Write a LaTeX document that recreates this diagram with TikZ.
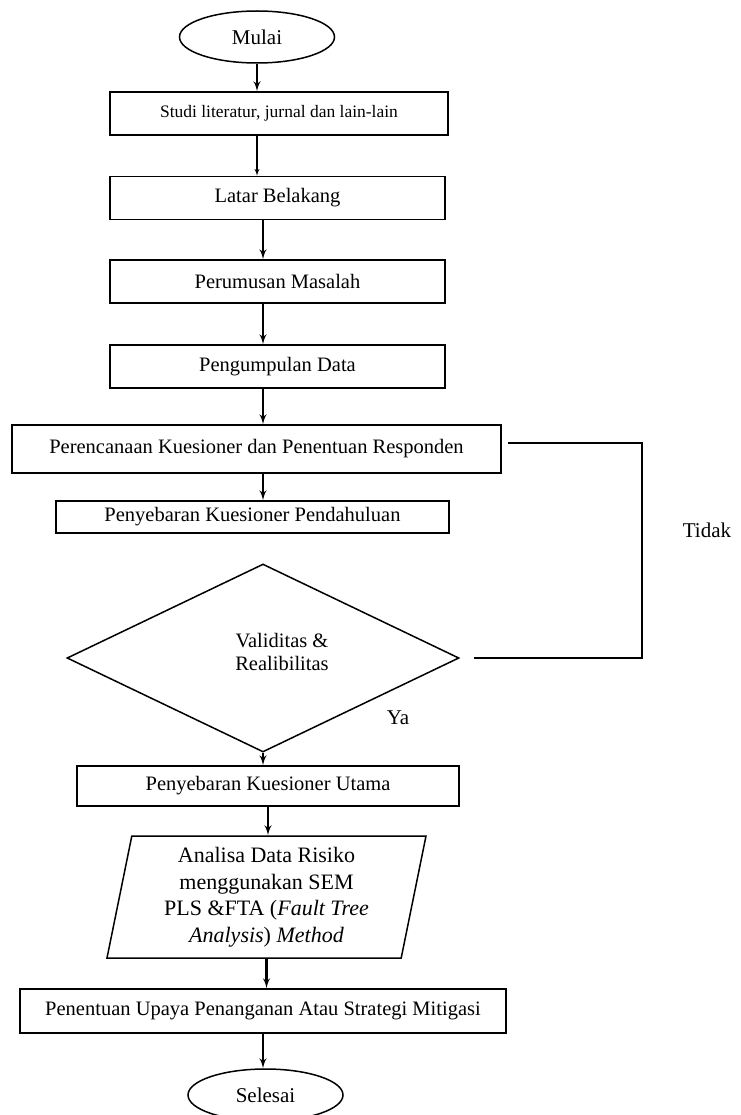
\documentclass[tikz,border=0pt]{standalone}
\usepackage{fontspec}
\setmainfont{Liberation Serif}
\usetikzlibrary{shapes,arrows,positioning}

\begin{document}
\begin{tikzpicture}[x=1pt, y=-1pt,
    block/.style={rectangle, draw, line width=1.5pt, inner sep=0pt, text centered, font=\fontsize{20.5}{24}\selectfont},
    terminal/.style={ellipse, draw, line width=1.5pt, inner sep=0pt, minimum width=155pt, minimum height=52pt, font=\fontsize{21}{25}\selectfont},
    decision/.style={diamond, draw, line width=1.5pt, inner sep=0pt, minimum width=392pt, minimum height=188pt},
    io/.style={trapezium, trapezium left angle=76, trapezium right angle=104, trapezium stretches body, draw, line width=1.5pt, inner sep=0pt, minimum width=319pt, minimum height=122pt, align=center, font=\fontsize{22}{26.5}\selectfont},
    answer/.style={font=\fontsize{21}{25}\selectfont},
    line/.style={draw, -latex', line width=2.4pt},
    thinline/.style={draw, -latex', line width=1.3pt},
    loop/.style={draw, line width=2.4pt}]
    \useasboundingbox (0,0) rectangle (740,1115);

    \node [terminal] (mulai) at (257,37) {Mulai};
    \node [block, minimum width=338pt, minimum height=43pt, font=\fontsize{17.5}{21}\selectfont] (studi) at (279,113.5) {Studi literatur, jurnal dan lain-lain};
    \node [block, minimum width=335pt, minimum height=43pt] (latar) at (277.5,198) {Latar Belakang};
    \node [block, minimum width=335pt, minimum height=43pt] (rumus) at (277.5,281.5) {Perumusan Masalah};
    \node [block, minimum width=335pt, minimum height=43pt] (kumpul) at (277.5,366.5) {Pengumpulan Data};
    \node [block, minimum width=489pt, minimum height=48pt] (rencana) at (256.5,449) {Perencanaan Kuesioner dan Penentuan Responden};
    \node [block, minimum width=393pt, minimum height=32pt] (sebar) at (252.5,517) {Penyebaran Kuesioner Pendahuluan};
    \node [decision] (valid) at (263,658) {};
    \node [align=center, font=\fontsize{20.5}{23}\selectfont] (validtext) at (282,652) {Validitas \&\\Realibilitas};
    \node [block, minimum width=382pt, minimum height=40pt] (utama) at (268,786) {Penyebaran Kuesioner Utama};
    \node [io] (analisa) at (266.5,897) {Analisa Data Risiko\\menggunakan SEM\\PLS \&FTA (\textit{Fault Tree}\\\textit{Analysis}) \textit{Method}};
    \node [block, minimum width=486pt, minimum height=44pt] (upaya) at (263,1011) {Penentuan Upaya Penanganan Atau Strategi Mitigasi};
    \node [terminal] (selesai) at (265.5,1095) {Selesai};

    \node [answer] (ya) at (398,718) {Ya};
    \node [answer] (tidak) at (707,530) {Tidak};
    \coordinate (corner) at (642,443);

    \path [line] (mulai.south) -- (mulai.south |- studi.north);
    \path [thinline] (mulai.south |- studi.south) -- (mulai.south |- latar.north);
    \path [line] (valid.north |- latar.south) -- (valid.north |- rumus.north);
    \path [line] (valid.north |- rumus.south) -- (valid.north |- kumpul.north);
    \path [line] (valid.north |- kumpul.south) -- (valid.north |- rencana.north);
    \path [line] (valid.north |- rencana.south) -- (valid.north |- sebar.north);
    \path [line] (valid.south) -- (valid.south |- utama.north);
    \path [line] (utama.south) -- (utama.south |- analisa.north);
    \path [line] (analisa.south) -- (analisa.south |- upaya.north);
    \path [line] (upaya.south) -- (upaya.south |- selesai.north);
    \path [loop] ([xshift=14pt]valid.east) -| (corner) -- ([xshift=6pt]rencana.east |- corner);
\end{tikzpicture}
\end{document}
